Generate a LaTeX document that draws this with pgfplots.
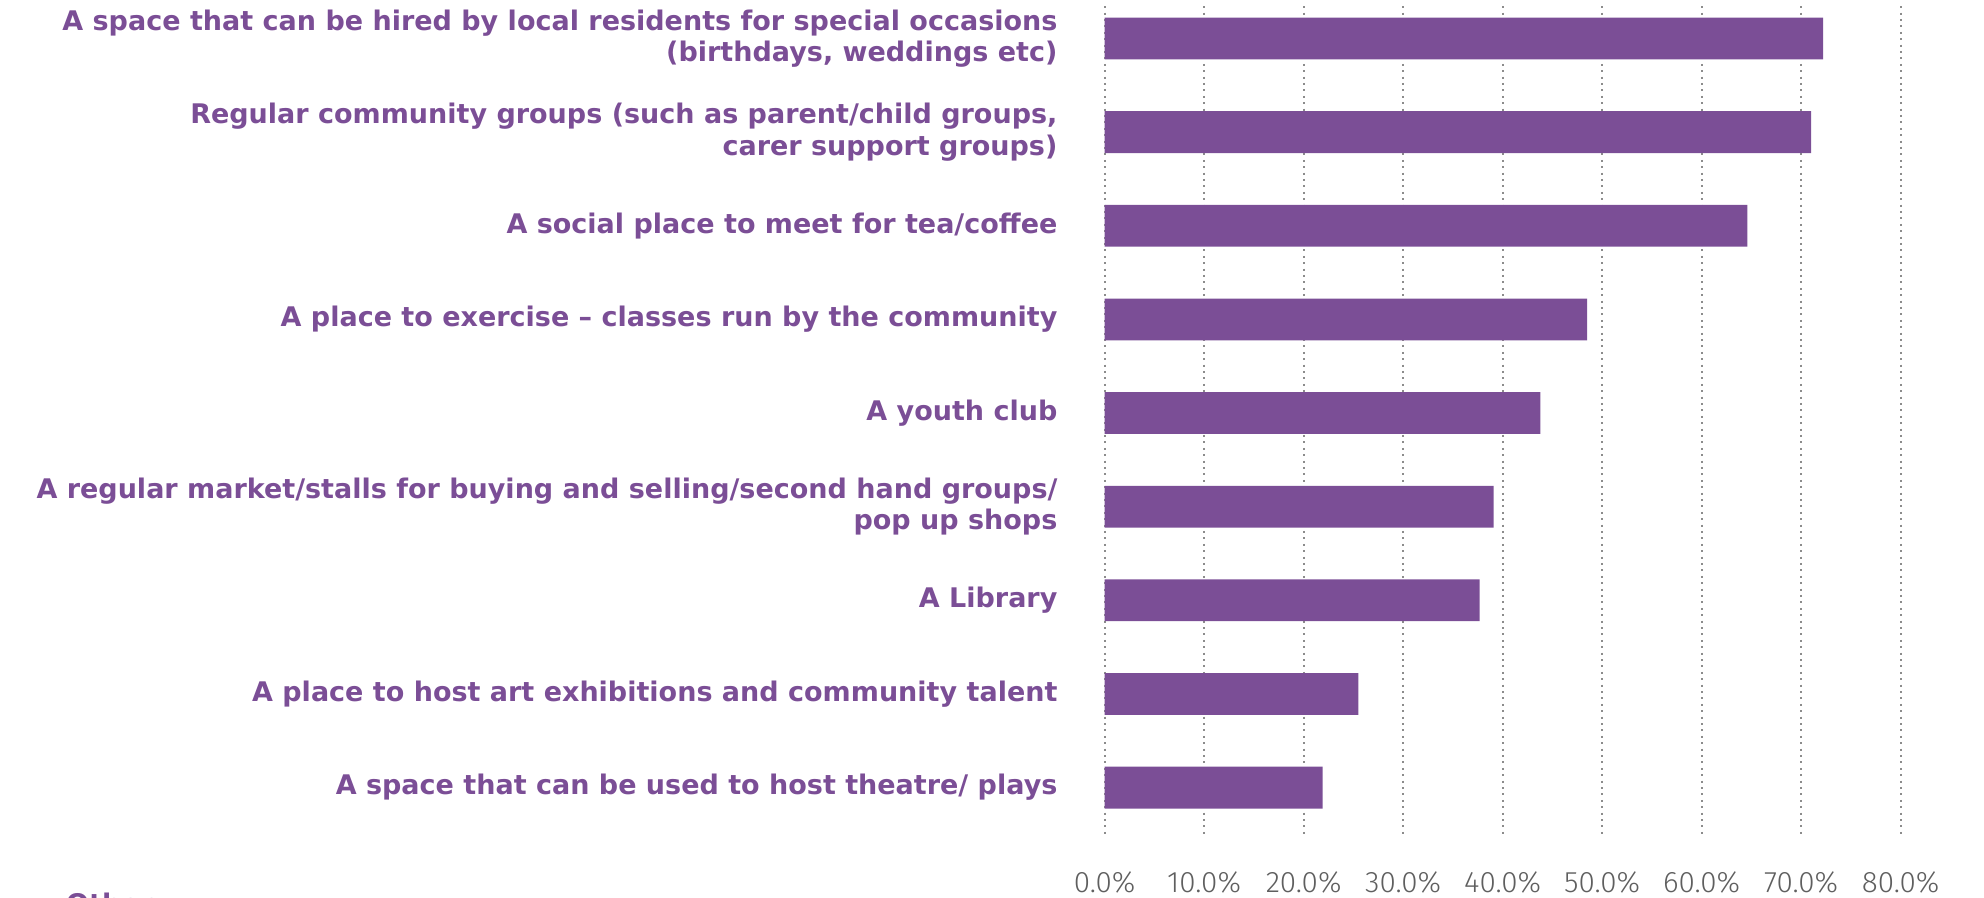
\documentclass[border=0pt]{standalone}
\usepackage{pgfplots}
\pgfplotsset{compat=1.18}
\usepackage{fontspec}
\setmainfont{Fira Sans}
\newfontfamily\labelfont{DejaVu Sans}
\newfontfamily\tickfont{Fira Sans Light}

\definecolor{barpurple}{HTML}{7B4E96}
\definecolor{tickgray}{HTML}{5F5F5F}
\definecolor{gridgray}{HTML}{8C8C8C}

\begin{document}
\begin{tikzpicture}
\path[use as bounding box] (0,0) rectangle (992pt,449pt);
\begin{axis}[
    at={(552.3pt,30.2pt)}, anchor=south west,
    scale only axis, width=398pt, height=415.7pt,
    xbar, bar width=20.9pt,
    xmin=0, xmax=80,
    ymin=-0.345, ymax=8.534, y dir=reverse,
    axis line style={draw=none},
    major tick length=0pt,
    xtick={0,10,...,80},
    xticklabels={0.0\%,10.0\%,20.0\%,30.0\%,40.0\%,50.0\%,60.0\%,70.0\%,80.0\%},
    xmajorgrids,
    grid style={gridgray, line width=0.9pt, dash pattern=on 1pt off 2.2pt},
    ytick={0,...,8},
    yticklabels={
        {A space that can be hired by local residents for special occasions\\(birthdays, weddings etc)},
        {Regular community groups (such as parent/child groups,\\carer support groups)},
        {A social place to meet for tea/coffee},
        {A place to exercise – classes run by the community},
        {A youth club},
        {A regular market/stalls for buying and selling/second hand groups/\\pop up shops},
        {A Library},
        {A place to host art exhibitions and community talent},
        {A space that can be used to host theatre/ plays}},
    yticklabel style={align=right, anchor=east, inner sep=0pt, xshift=-23.4pt,
        font=\labelfont\bfseries\fontsize{13.5}{15.8}\selectfont, text=barpurple},
    xticklabel style={anchor=center, inner sep=0pt, yshift=-22.2pt,
        font=\tickfont\fontsize{14.8}{16}\selectfont, text=tickgray},
]
\addplot[fill=barpurple, draw=none] coordinates {
    (72.2,0)
    (71.0,1)
    (64.6,2)
    (48.5,3)
    (43.8,4)
    (39.1,5)
    (37.7,6)
    (25.5,7)
    (21.9,8)
};
\end{axis}
\node[anchor=base west, inner sep=0pt, text=barpurple,
    font=\labelfont\bfseries\fontsize{13.5}{15.8}\selectfont] at (32.9pt,-7.8pt) {Other};
\end{tikzpicture}
\end{document}
